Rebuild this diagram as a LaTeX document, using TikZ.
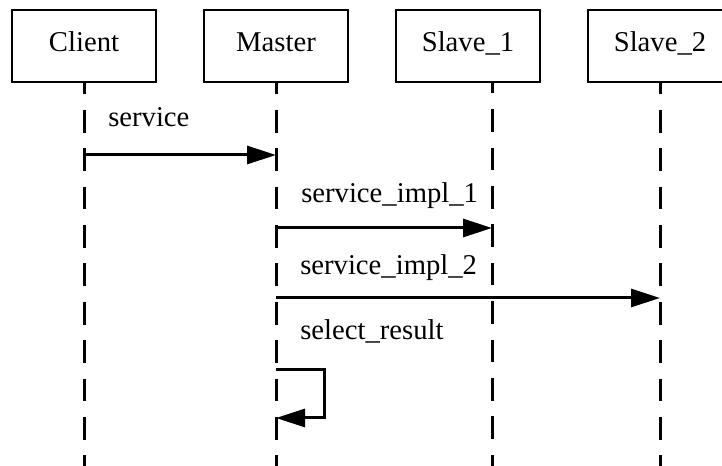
\documentclass[tikz,border=0pt]{standalone}
\usepackage{fontspec}
\setmainfont{Liberation Serif}
\usetikzlibrary{arrows.meta, positioning}

\begin{document}
\begin{tikzpicture}
    [
        x=0.75pt, y=-0.75pt,
        font=\fontsize{21.5}{26}\selectfont,
        actor/.style={rectangle, draw=black, line width=1pt, minimum width=108pt, minimum height=54pt,
            inner sep=0pt, text height=0.9em, text depth=0.14em},
        lifeline/.style={draw=black, line width=2.25pt, dash pattern=on 17pt off 11.8pt, dash phase=8.4pt},
        msg/.style={draw=black, line width=2.25pt, -{Triangle[length=21.75pt, width=13.5pt]}},
        msglabel/.style={anchor=base west, inner sep=0pt},
    ]
    \useasboundingbox (0,0) rectangle (722,466);

    \node (client) at (84,46) [actor] {Client};
    \node (master) at (276,46) [actor] {Master};
    \node (slave1) at (468,46) [actor] {Slave\_1};
    \node (slave2) at (660,46) [actor] {Slave\_2};

    \coordinate (client end) at (84,466);
    \coordinate (master end) at (276,466);
    \coordinate (slave1 top) at (492,82);
    \coordinate (slave1 end) at (492,466);
    \coordinate (slave2 end) at (660,466);

    \draw[lifeline] (client.south) -- (client end);
    \draw[lifeline] (master.south) -- (master end);
    \draw[lifeline] (slave1 top) -- (slave1 end);
    \draw[lifeline] (slave2.south) -- (slave2 end);

    \node (service) at (108,127) [msglabel] {service};
    \node (impl1) at (301,203) [msglabel] {service\_impl\_1};
    \node (impl2) at (300,275) [msglabel] {service\_impl\_2};
    \node (select) at (300,340) [msglabel] {select\_result};

    \draw[msg] (client.south |- 0,155) -- (master.south |- 0,155);
    \draw[msg] (master.south |- 0,228) -- (slave1 top |- 0,228);
    \draw[msg] (master.south |- 0,298) -- (slave2.south |- 0,298);
    \draw[msg] (master.south |- 0,370) -- (324,370) -- (324,418) -- (master.south |- 0,418);
\end{tikzpicture}
\end{document}
